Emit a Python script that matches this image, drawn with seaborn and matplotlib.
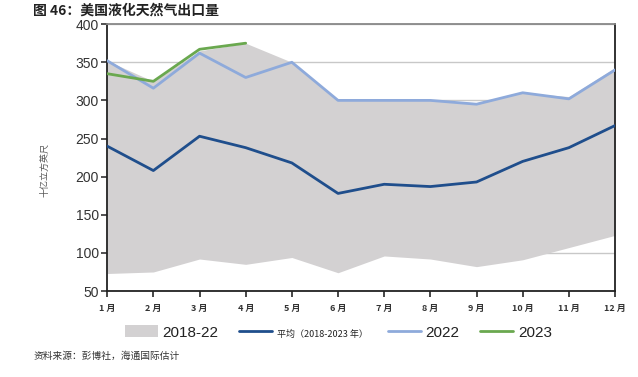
"""US LNG exports chart: 2018-22 range band, average, 2022 and 2023 lines."""

import matplotlib.pyplot as plt
import pandas as pd
import seaborn as sns
from matplotlib.lines import Line2D
from matplotlib.patches import Patch

months = list(range(1, 13))
month_labels = [f"{m} 月" for m in months]

band_low = [73, 75, 92, 85, 94, 74, 96, 92, 82, 91, 107, 123]
band_high = [352, 325, 365, 375, 350, 300, 300, 300, 297, 310, 305, 343]
avg_2018_2023 = [240, 208, 253, 238, 218, 178, 190, 187, 193, 220, 238, 267]
y2022 = [352, 316, 362, 330, 350, 300, 300, 300, 295, 310, 302, 340]
y2023 = [335, 325, 367, 375]

c_band = "#d3d1d2"
c_avg = "#1f4e8c"
c_2022 = "#8eaadb"
c_2023 = "#6aa84f"

sns.set_theme(style="white")
plt.rcParams["font.family"] = ["Liberation Sans", "Noto Sans CJK SC", "DejaVu Sans"]
cjk = ["Noto Sans CJK SC", "DejaVu Sans"]

df = pd.DataFrame({"month": months, "avg": avg_2018_2023, "y2022": y2022})
df23 = pd.DataFrame({"month": months[:len(y2023)], "y2023": y2023})

fig = plt.figure(figsize=(6.38, 3.77), dpi=100)
ax = fig.add_axes([0.168, 0.228, 0.796, 0.708])

ax.fill_between(months, band_low, band_high, color=c_band, lw=0, zorder=1)
sns.lineplot(data=df, x="month", y="avg", color=c_avg, lw=2, ax=ax, zorder=3)
sns.lineplot(data=df, x="month", y="y2022", color=c_2022, lw=2, ax=ax, zorder=3)
sns.lineplot(data=df23, x="month", y="y2023", color=c_2023, lw=2, ax=ax, zorder=4)

ax.set_xlim(1, 12)
ax.set_ylim(50, 400)
ax.set_yticks(range(50, 401, 50))
ax.set_xticks(months)
ax.set_xticklabels(month_labels, family=cjk, fontsize=6.5, color="#333333",
                   fontweight="bold")
ax.tick_params(axis="y", labelsize=10, colors="#333333", length=4, width=1.2,
               direction="out", left=True, pad=2)
ax.tick_params(axis="x", length=4, width=1.2, direction="out", bottom=True, pad=5)
for t in ax.get_yticklabels():
    t.set_color("#333333")

ax.yaxis.grid(True, color="#c8c8c8", lw=1, zorder=0)
ax.set_axisbelow(True)
for side in ("left", "bottom", "right"):
    ax.spines[side].set_color("#222222")
    ax.spines[side].set_linewidth(1.3)
ax.spines["top"].set_color("#888888")
ax.spines["top"].set_linewidth(1.3)

ax.set_xlabel("")
ax.set_ylabel("")
fig.text(0.071, 0.55, "十亿立方英尺", rotation=90, ha="center", va="center",
         family=cjk, fontsize=6.5, color="#555555")

fig.text(0.052, 0.962, "图 46：美国液化天然气出口量", family=cjk, fontsize=10,
         fontweight="bold", va="baseline", color="#222222")
fig.text(0.052, 0.055, "资料来源：彭博社，海通国际估计", family=cjk, fontsize=7,
         color="#333333", va="center")

handles = [
    Patch(facecolor=c_band, edgecolor="none"),
    Line2D([], [], color=c_avg, lw=2),
    Line2D([], [], color=c_2022, lw=2),
    Line2D([], [], color=c_2023, lw=2),
]
labels = ["2018-22", "平均（2018-2023 年）", "2022", "2023"]
leg = fig.legend(handles, labels, loc="center", bbox_to_anchor=(0.53, 0.118),
                 ncol=4, frameon=False, fontsize=11, handlelength=2.2,
                 handleheight=0.8, columnspacing=1.3, handletextpad=0.3)
for i, t in enumerate(leg.get_texts()):
    t.set_color("#222222")
    if i == 1:
        t.set_fontsize(6.5)
        t.set_family(cjk)

fig.savefig("out.png", dpi=100)
